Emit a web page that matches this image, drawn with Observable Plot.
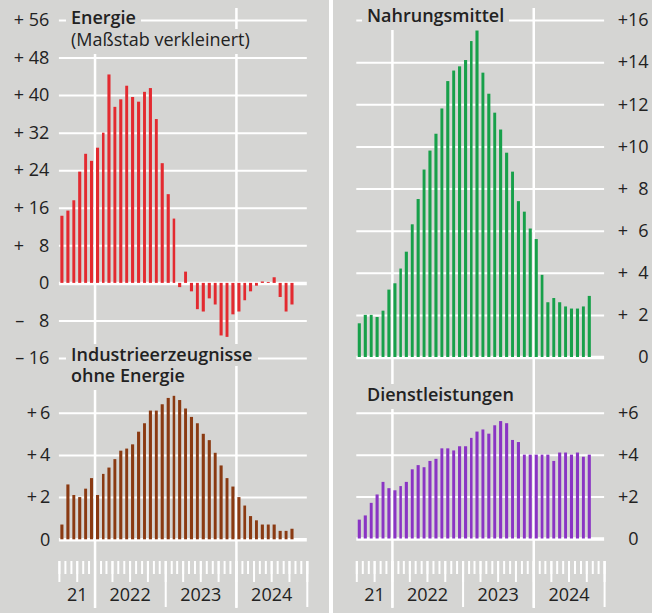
<!DOCTYPE html>
<html><head><meta charset="utf-8">
<script src="https://cdn.jsdelivr.net/npm/d3@7"></script>
<script src="https://cdn.jsdelivr.net/npm/@observablehq/plot@0.6"></script>
<style>
html,body{margin:0;padding:0;background:#d5d5d3;}
#chart{position:relative;width:652px;height:613px;background:#d5d5d3;overflow:hidden;font-family:"Open Sans",sans-serif;color:#222;}
#chart svg{position:absolute;left:0;overflow:visible;}
.title{position:absolute;font-size:18px;font-weight:600;line-height:21px;white-space:pre;}
.title.energie{font-weight:400;line-height:21.5px;}
.title.energie::first-line{font-weight:600;}
.mask{position:absolute;background:#d5d5d3;}
.divider{position:absolute;left:329px;top:0;width:4px;height:613px;background:#fff;}
</style></head><body><div id="chart"></div>
<script>
// ---- data ----
const months = ["2021-07","2021-08","2021-09","2021-10","2021-11","2021-12",
  "2022-01","2022-02","2022-03","2022-04","2022-05","2022-06","2022-07","2022-08","2022-09","2022-10","2022-11","2022-12",
  "2023-01","2023-02","2023-03","2023-04","2023-05","2023-06","2023-07","2023-08","2023-09","2023-10","2023-11","2023-12",
  "2024-01","2024-02","2024-03","2024-04","2024-05","2024-06","2024-07","2024-08","2024-09","2024-10"];
const energie = [14.3,15.4,17.6,23.7,27.5,26.0,
  28.8,32.0,44.4,37.5,39.1,42.0,39.6,38.6,40.7,41.5,34.9,25.5,
  18.9,13.7,-0.9,2.4,-1.8,-5.6,-6.1,-3.3,-4.6,-11.2,-11.5,-6.7,
  -6.1,-3.7,-1.8,-0.6,0.3,0.2,1.2,-3.0,-6.1,-4.6];
const nahrungsmittel = [1.6,2.0,2.0,1.9,2.2,3.2,
  3.5,4.2,5.0,6.3,7.5,8.9,9.8,10.6,11.8,13.1,13.6,13.8,
  14.1,15.0,15.5,13.5,12.5,11.6,10.8,9.7,8.8,7.4,6.9,6.1,
  5.6,3.9,2.6,2.8,2.6,2.4,2.3,2.3,2.4,2.9];
const industrie = [0.7,2.6,2.1,2.0,2.4,2.9,
  2.1,3.1,3.4,3.8,4.2,4.3,4.5,5.1,5.5,6.1,6.1,6.4,
  6.7,6.8,6.6,6.2,5.8,5.5,5.0,4.7,4.1,3.5,2.9,2.5,
  2.0,1.6,1.1,0.9,0.7,0.7,0.7,0.4,0.4,0.5];
const dienstleistungen = [0.9,1.1,1.7,2.1,2.7,2.4,
  2.3,2.5,2.7,3.3,3.5,3.4,3.7,3.8,4.3,4.3,4.2,4.4,
  4.4,4.8,5.1,5.2,5.0,5.4,5.6,5.5,4.7,4.6,4.0,4.0,
  4.0,4.0,4.0,3.7,4.1,4.1,4.0,4.1,3.9,4.0];
const energieTicks = [-16,-8,0,8,16,24,32,40,48,56];
const nahrungTicks = [0,2,4,6,8,10,12,14,16];
const kleinTicks = [0,2,4,6];
const yearLabels = ["21","2022","2023","2024"];
const yearLabelDates = ["2021-10-01","2022-07-01","2023-07-01","2024-07-01"];
const gridYears = ["2022-01-01","2024-01-01"];

// ---- layout ----
const W = 652;
const xDomain = [new Date("2021-07-01"), new Date("2025-01-01")];
const colL = {marginLeft: 58.9, marginRight: W - 306.8};
const colR = {marginLeft: 356.3, marginRight: W - 604.1};
const rows = months.map((m, i) => ({
  date: new Date(m + "-01"),
  end: d3.utcMonth.offset(new Date(m + "-01"), 1),
  energie: energie[i], nahrungsmittel: nahrungsmittel[i],
  industrie: industrie[i], dienstleistungen: dienstleistungen[i]
}));
const chart = document.getElementById("chart");
function place(svg, top) { svg.style.top = top + "px"; chart.appendChild(svg); }
const baseStyle = {background: "none", fontFamily: "'Open Sans', sans-serif", fontSize: "18px", color: "#222", overflow: "visible"};

const pad2 = v => (v < 10 ? "\u2007" : "") + v;
const fmtEnergie = v => v === 0 ? "0" : (v > 0 ? "+" : "\u2013") + " " + pad2(Math.abs(v));
const fmtNahrung = v => v === 0 ? "0" : "+" + pad2(v);
const fmtIndustrie = v => v === 0 ? "0" : "+\u2009" + v;
const fmtDienst = v => v === 0 ? "0" : "+" + v;

function panel({col, top, height, marginTop, marginBottom, domain, ticks, key, color, anchor, fmt, tickPadding, textAnchor}) {
  const axisOpts = {anchor, tickSize: 0, tickPadding, tickFormat: fmt, fontSize: 18};
  if (textAnchor) axisOpts.textAnchor = textAnchor;
  const svg = Plot.plot({
    width: W, height, marginTop, marginBottom, ...col,
    style: baseStyle,
    x: {type: "utc", domain: xDomain, axis: null},
    y: {domain, label: null},
    marks: [
      Plot.ruleY(ticks.filter(t => t !== 0), {stroke: "white", strokeWidth: 2}),
      Plot.ruleY([0], {stroke: "white", strokeWidth: 3.5}),
      Plot.rectY(rows, {x1: "date", x2: "end", y1: 0, y2: key, fill: color, insetLeft: 1.45, insetRight: 1.45}),
      Plot.axisY(ticks, axisOpts)
    ]
  });
  place(svg, top);
}

function gridCol(col) {
  const svg = Plot.plot({
    width: W, height: 613, marginTop: 8, marginBottom: 5, ...col,
    style: baseStyle,
    x: {type: "utc", domain: xDomain, axis: null},
    marks: [Plot.ruleX(gridYears.map(d => new Date(d)), {stroke: "white", strokeWidth: 2.5})]
  });
  place(svg, 0);
}

function stripCol(col) {
  const all = d3.utcMonth.range(xDomain[0], d3.utcMonth.offset(xDomain[1], 1));
  const quarters = all.filter(d => d.getUTCMonth() % 3 === 0);
  const years = all.filter(d => d.getUTCMonth() === 0);
  const svg = Plot.plot({
    width: W, height: 52, marginTop: 0, marginBottom: 52, ...col,
    style: baseStyle,
    x: {type: "utc", domain: xDomain, axis: null},
    marks: [
      Plot.axisX(all, {anchor: "bottom", tickSize: 13, tickFormat: () => "", stroke: "white", strokeWidth: 2}),
      Plot.axisX(quarters, {anchor: "bottom", tickSize: 21, tickFormat: () => "", stroke: "white", strokeWidth: 2}),
      Plot.axisX(years, {anchor: "bottom", tickSize: 46, tickFormat: () => "", stroke: "white", strokeWidth: 2}),
      Plot.text(yearLabels, {x: (d, i) => new Date(yearLabelDates[i]), text: d => d, frameAnchor: "bottom", dy: 39, fontSize: 18, fill: "#222"})
    ]
  });
  place(svg, 561);
}

gridCol(colL);
gridCol(colR);

panel({col: colL, top: 0, height: 370, marginTop: 20, marginBottom: 12, domain: [-16, 56], ticks: energieTicks,
  key: "energie", color: "#e32a30", anchor: "left", fmt: fmtEnergie, tickPadding: 10});
panel({col: colR, top: 0, height: 370, marginTop: 20, marginBottom: 13, domain: [0, 16], ticks: nahrungTicks,
  key: "nahrungsmittel", color: "#17a04a", anchor: "right", fmt: fmtNahrung, tickPadding: 44, textAnchor: "end"});
panel({col: colL, top: 340, height: 210, marginTop: 72.7, marginBottom: 10.7, domain: [0, 6], ticks: kleinTicks,
  key: "industrie", color: "#8a3a12", anchor: "left", fmt: fmtIndustrie, tickPadding: 9});
panel({col: colR, top: 340, height: 210, marginTop: 72.7, marginBottom: 11.5, domain: [0, 6], ticks: kleinTicks,
  key: "dienstleistungen", color: "#8a34c4", anchor: "right", fmt: fmtDienst, tickPadding: 34, textAnchor: "end"});

stripCol(colL);
stripCol(colR);

// titles (one text element per panel; gray masks behind each line hide the gridlines)
const titles = [
  {text: "Energie\n(Maßstab verkleinert)", left: 71, top: 7.3, cls: "energie"},
  {text: "Industrieerzeugnisse\nohne Energie", left: 71, top: 344.2, cls: ""},
  {text: "Nahrungsmittel", left: 367, top: 5.2, cls: ""},
  {text: "Dienstleistungen", left: 367, top: 384.2, cls: ""}
];
const chartBox = chart.getBoundingClientRect();
for (const t of titles) {
  const d = document.createElement("div");
  d.className = "title " + t.cls;
  d.textContent = t.text;
  d.style.left = t.left + "px";
  d.style.top = t.top + "px";
  chart.appendChild(d);
  const range = document.createRange();
  range.selectNodeContents(d);
  const rects = Array.from(range.getClientRects()).filter(r => r.width > 0);
  rects.forEach((r, i) => {
    const m = document.createElement("div");
    m.className = "mask";
    const last = i === rects.length - 1;
    const top = r.top - chartBox.top + 2;
    const bottom = r.bottom - chartBox.top + (last ? 3 : 0);
    m.style.left = (r.left - chartBox.left - 5) + "px";
    m.style.top = top + "px";
    m.style.width = (r.width + 10) + "px";
    m.style.height = (bottom - top) + "px";
    chart.insertBefore(m, d);
  });
}
const div = document.createElement("div");
div.className = "divider";
chart.appendChild(div);
</script></body></html>
